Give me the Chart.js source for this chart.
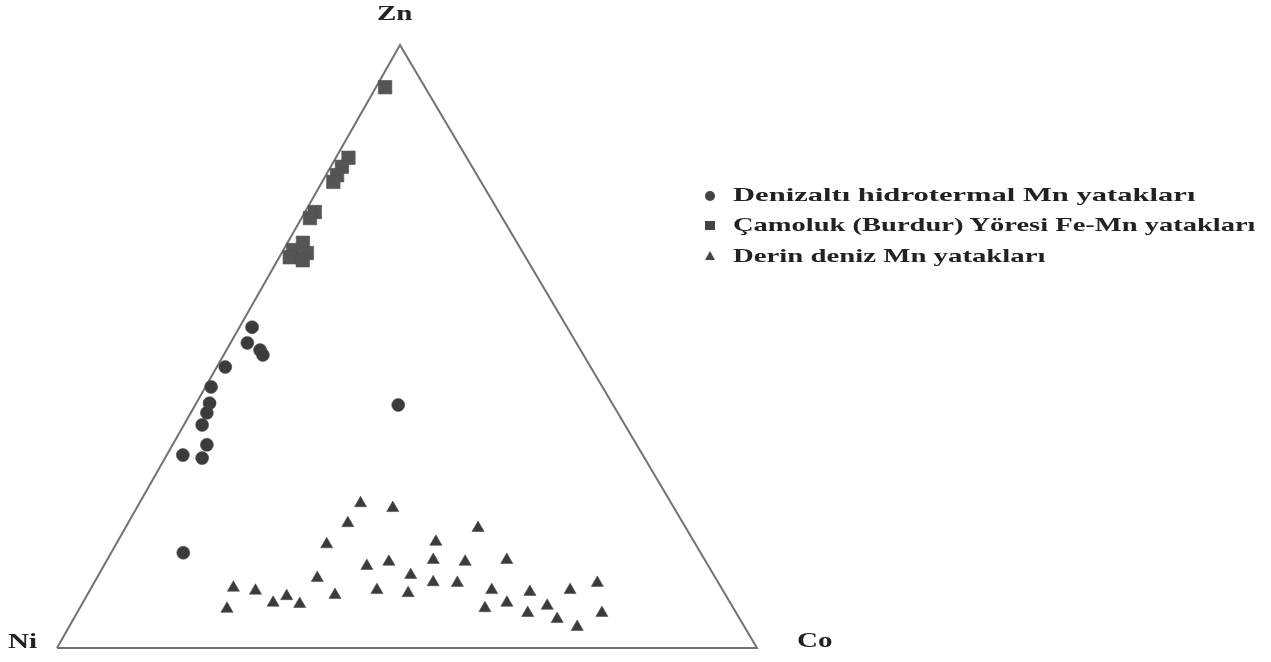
<!DOCTYPE html>
<html>
<head>
<meta charset="utf-8">
<script src="https://cdn.jsdelivr.net/npm/chart.js@4"></script>
<style>
  body { margin: 0; background: #fff; }
  #wrap { position: relative; width: 1271px; height: 662px; overflow: hidden; }
  .lbl, .legend-row span {
    position: absolute;
    font-family: 'Liberation Serif', 'DejaVu Serif', serif;
    font-weight: bold;
    color: #222;
    transform-origin: left center;
    white-space: nowrap;
  }
  .lbl { font-size: 20px; transform: scaleX(1.45); }
  .legend-row { position: absolute; left: 700px; height: 20px; }
  .legend-row span { left: 33px; top: -2px; font-size: 19px; }
  .mk { position: absolute; left: 5px; top: 5px; background: #444; }
  .mk.circle { width: 10px; height: 10px; border-radius: 50%; }
  .mk.square { width: 10px; height: 9px; }
  .mk.triangle { width: 0; height: 0; background: none; left: 5px; top: 4px;
    border-left: 5px solid transparent; border-right: 5px solid transparent; border-bottom: 9px solid #444; }
</style>
</head>
<body>
<div id="wrap">
  <canvas id="chart" width="1271" height="662"></canvas>
  <div class="lbl" style="left:377px; top:2px;">Zn</div>
  <div class="lbl" style="left:8px; top:630px;">Ni</div>
  <div class="lbl" style="left:797px; top:629px;">Co</div>
  <div id="legend"></div>
</div>
<script>
// ternary compositions, [Ni, Co, Zn] in %
const denizaltiPoints = [
  [45.0, 1.8, 53.2], [47.0, 2.4, 50.6], [45.8, 4.8, 49.4], [45.8, 5.6, 48.6],
  [52.2, 1.2, 46.6], [55.9, 0.8, 43.3], [57.5, 1.9, 40.6], [58.7, 2.3, 39.0],
  [60.4, 2.6, 37.0], [61.4, 4.9, 33.7], [65.7, 2.3, 32.0], [63.2, 5.3, 31.5],
  [30.7, 29.0, 40.3], [73.9, 10.3, 15.8],
];
const camolukPoints = [
  [5.7, 1.3, 93.0], [16.9, 1.8, 81.3], [18.6, 1.6, 79.8], [20.0, 1.6, 78.4],
  [21.1, 1.6, 77.3], [26.3, 1.4, 72.3], [27.5, 1.2, 71.3], [30.6, 2.2, 67.2],
  [32.6, 1.4, 66.0], [33.7, 1.5, 64.8], [30.9, 3.6, 65.5], [32.1, 3.6, 64.3],
];
const derinDenizPoints = [
  [44.4, 31.6, 24.0], [40.2, 36.6, 23.2], [47.9, 31.4, 20.7], [52.7, 30.1, 17.2],
  [36.9, 45.5, 17.6], [48.8, 37.6, 13.6], [45.3, 40.4, 14.3], [38.8, 46.6, 14.6],
  [43.3, 44.6, 12.1], [40.7, 48.4, 10.9], [56.9, 31.5, 11.6], [69.7, 20.3, 10.0],
  [66.8, 23.7, 9.5], [65.3, 27.2, 7.5], [62.8, 28.6, 8.6], [61.6, 31.1, 7.3],
  [72.4, 21.1, 6.5], [55.8, 35.4, 8.8], [49.4, 41.0, 9.6], [45.2, 45.7, 9.1],
  [29.7, 50.4, 19.9], [34.4, 51.3, 14.3], [28.3, 57.1, 14.6], [37.3, 51.9, 10.8],
  [33.0, 57.4, 9.6], [35.5, 57.9, 6.6], [31.9, 60.6, 7.5], [27.7, 63.0, 9.3],
  [21.8, 68.6, 9.6], [17.3, 71.9, 10.8], [26.4, 66.6, 7.0], [29.8, 64.4, 5.8],
  [26.1, 69.1, 4.8], [23.9, 72.6, 3.5], [19.2, 75.0, 5.8],
];
// corners Ni -> Co -> Zn -> Ni
const cornerPoints = [[100, 0, 0], [0, 100, 0], [0, 0, 100], [100, 0, 0]];

const seriesLabels = [
  'Denizaltı hidrotermal Mn yatakları',
  'Çamoluk (Burdur) Yöresi Fe-Mn yatakları',
  'Derin deniz Mn yatakları',
];

// the Zn corner sits a bit left of the middle in the source figure
const ZN_X = 0.49;

function toXY([ni, co, zn]) {
  const s = ni + co + zn;
  return { x: (co + zn * ZN_X) / s, y: zn / s };
}

function markerSet(label, points, style, radius, color) {
  return {
    label,
    data: points.map(toXY),
    pointStyle: style,
    pointRadius: radius,
    backgroundColor: color,
    borderColor: 'rgba(80,80,80,0.6)',
    borderWidth: 1,
    clip: false,
    order: 1,
  };
}

new Chart(document.getElementById('chart'), {
  type: 'scatter',
  data: {
    datasets: [
      {
        type: 'line',
        data: cornerPoints.map(toXY),
        borderColor: '#727272',
        borderWidth: 2,
        pointRadius: 0,
        tension: 0,
        fill: false,
        clip: false,
        order: 5,
      },
      markerSet(seriesLabels[0], denizaltiPoints, 'circle', 6.5, '#3b3b3b'),
      markerSet(seriesLabels[1], camolukPoints, 'rect', 9.5, '#555555'),
      markerSet(seriesLabels[2], derinDenizPoints, 'triangle', 7, '#3b3b3b'),
    ],
  },
  options: {
    responsive: false,
    animation: false,
    events: [],
    layout: { padding: { left: 57, right: 514, top: 45, bottom: 14 } },
    plugins: { legend: { display: false }, tooltip: { enabled: false } },
    scales: {
      x: { type: 'linear', min: 0, max: 1, display: false },
      y: { type: 'linear', min: 0, max: 1, display: false },
    },
  },
});

// legend at the right; the source text is stretched wide, so fit each row to its width
const legend = document.getElementById('legend');
const markerClasses = ['circle', 'square', 'triangle'];
const rowTops = [186, 216, 247];
const rowWidths = [462, 522, 312];
seriesLabels.forEach((text, i) => {
  const row = document.createElement('div');
  row.className = 'legend-row';
  row.style.top = rowTops[i] + 'px';
  row.innerHTML = `<div class="mk ${markerClasses[i]}"></div><span>${text}</span>`;
  legend.appendChild(row);
  const span = row.querySelector('span');
  span.style.transform = `scaleX(${rowWidths[i] / span.offsetWidth})`;
});
</script>
</body>
</html>
